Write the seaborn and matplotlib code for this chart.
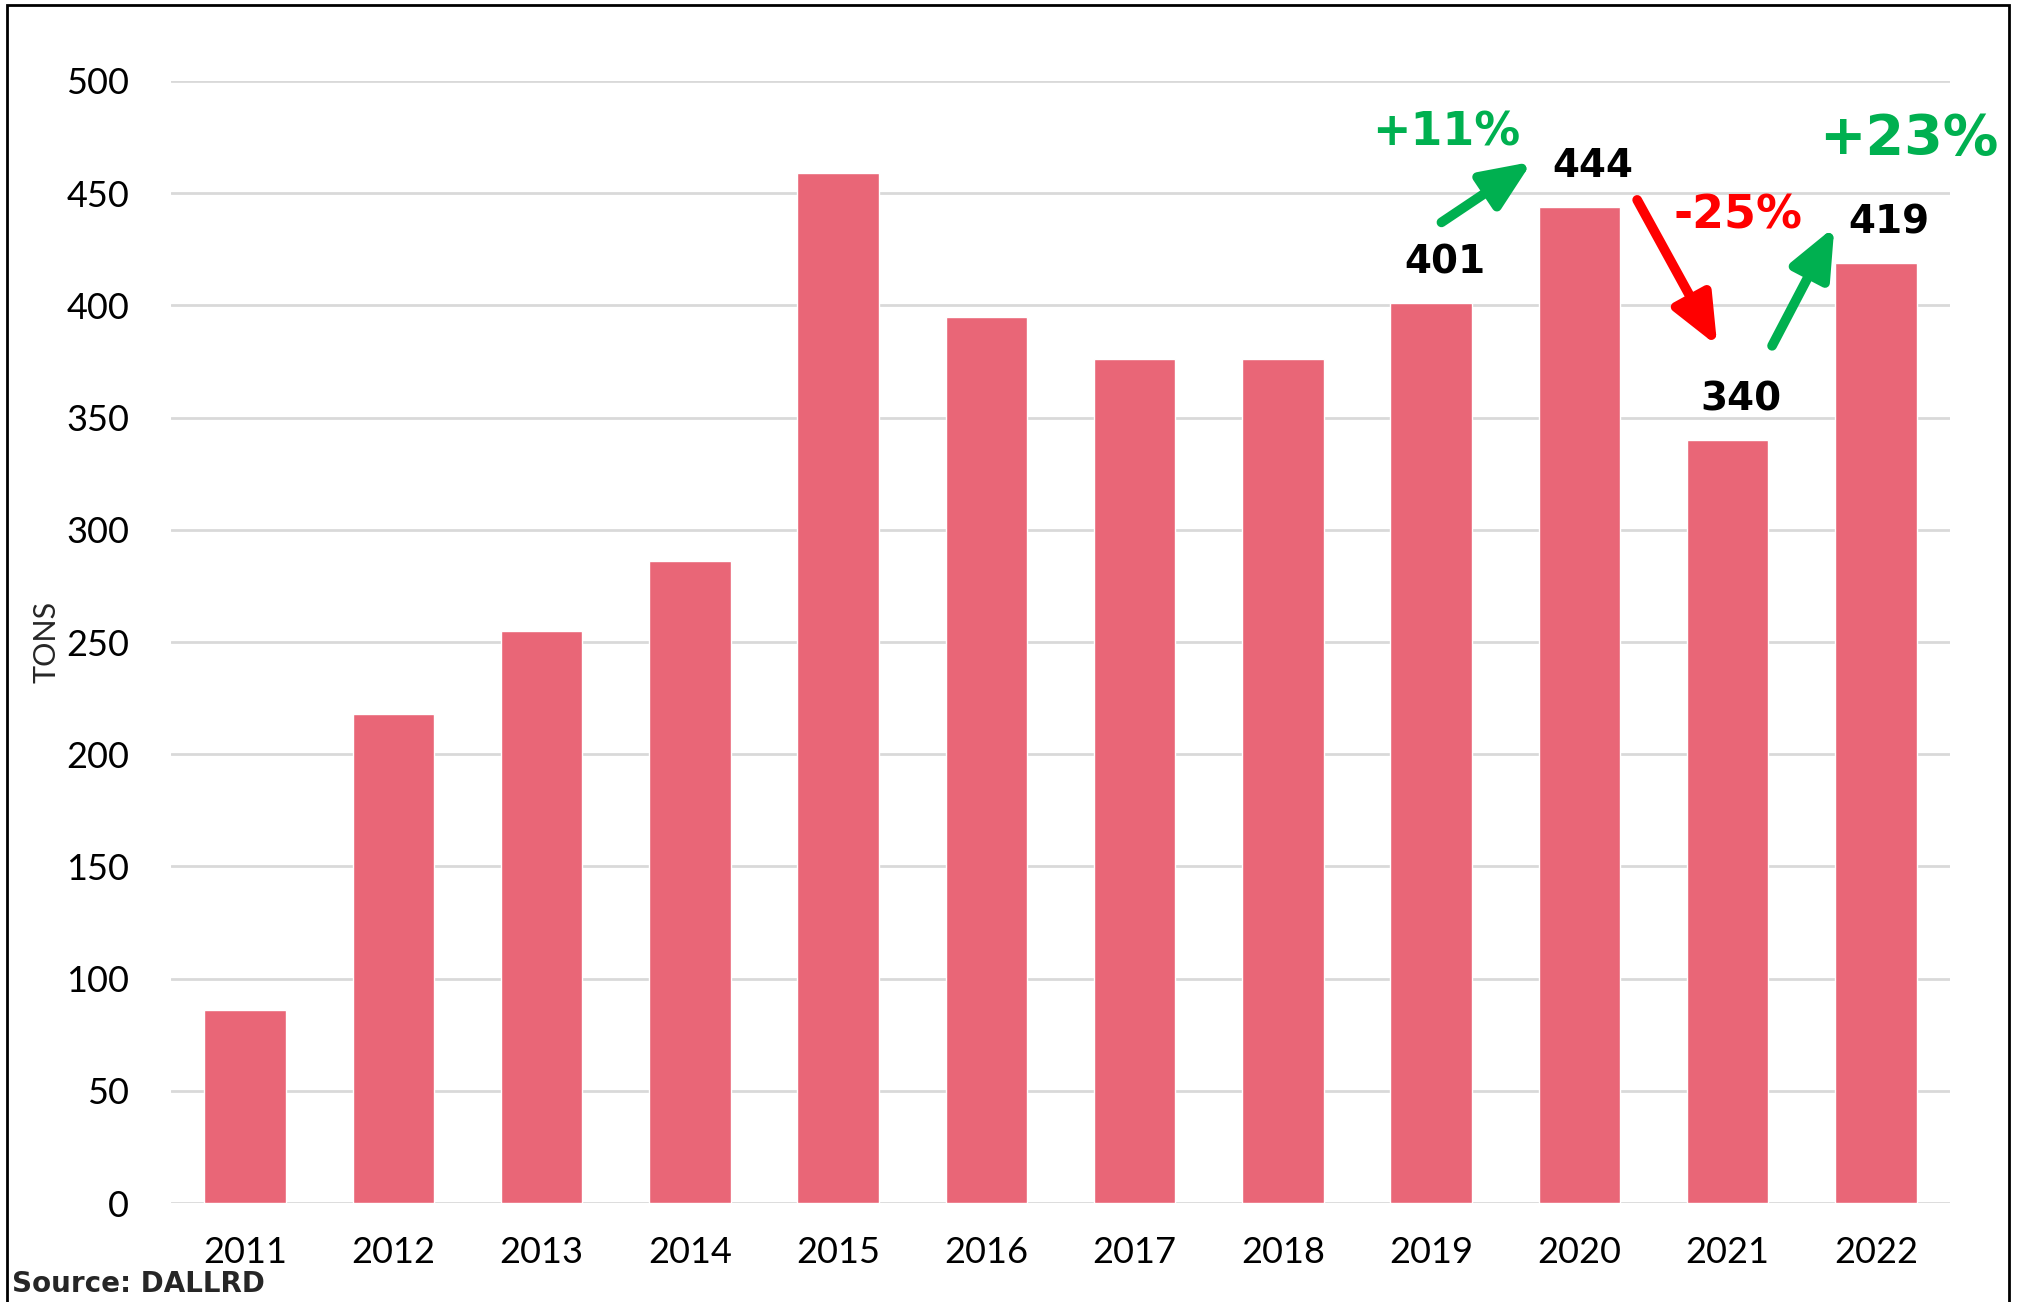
import matplotlib
matplotlib.use("Agg")
import matplotlib.pyplot as plt
import seaborn as sns
import pandas as pd
from matplotlib.patches import Rectangle

# donnees
years = ['2011', '2012', '2013', '2014', '2015', '2016',
         '2017', '2018', '2019', '2020', '2021', '2022']
tons = [86, 218, 255, 286, 459, 395, 376, 376, 401, 444, 340, 419]
labelled_years = ['2019', '2020', '2021', '2022']
yticks = [0, 50, 100, 150, 200, 250, 300, 350, 400, 450, 500]

bar_color = '#E96677'
green = '#00B050'
red = '#FF0000'
bold_font = ['DejaVu Sans']

df = pd.DataFrame({'year': years, 'tons': tons})

sns.set_style('white')
plt.rcParams['font.family'] = ['Lato', 'DejaVu Sans']

fig = plt.figure(figsize=(20.18, 13.02), dpi=100)
ax = fig.add_axes([0.0847, 0.076, 0.8816, 0.8618])

sns.barplot(data=df, x='year', y='tons', color=bar_color, saturation=1,
            width=0.55, ax=ax, zorder=3)

ax.set_ylim(0, 500)
ax.set_xlim(-0.5, 11.5)
ax.set_yticks(yticks)
ax.yaxis.grid(True, color='#D9D9D9', lw=2, zorder=0)
ax.set_axisbelow(True)
for s in ax.spines.values():
    s.set_visible(False)
ax.tick_params(axis='both', length=0, labelsize=26, colors='black')
ax.tick_params(axis='y', pad=30)
ax.tick_params(axis='x', pad=24)
ax.set_xlabel('')
ax.set_ylabel('TONS', fontsize=22)
ax.yaxis.set_label_coords(-0.062, 0.5)

# etiquettes des valeurs
for i, (y, t) in enumerate(zip(years, tons)):
    if y in labelled_years:
        ax.text(i + 0.09, t + 18, str(t), ha='center', va='center',
                fontsize=28, fontweight='bold', family=bold_font,
                color='black', clip_on=False)

# fleches de variation
arrows = [
    ((8.07, 437), (8.68, 464), green),
    ((9.39, 447), (9.93, 382), red),
    ((10.30, 382), (10.72, 435), green),
]
for start, end, col in arrows:
    ax.annotate('', xy=end, xytext=start, annotation_clip=False,
                arrowprops=dict(arrowstyle='-|>,head_length=0.75,head_width=0.32',
                                color=col, lw=7, mutation_scale=40,
                                shrinkA=0, shrinkB=0))

ax.text(8.10, 477, '+11%', ha='center', va='center', fontsize=33,
        fontweight='bold', family=bold_font, color=green, clip_on=False)
ax.text(10.07, 440, '-25%', ha='center', va='center', fontsize=33,
        fontweight='bold', family=bold_font, color=red, clip_on=False)
ax.text(11.22, 474, '+23%', ha='center', va='center', fontsize=40,
        fontweight='bold', family=bold_font, color=green, clip_on=False)

fig.text(0.006, 0.014, 'Source: DALLRD', fontsize=20, fontweight='bold',
         family=bold_font, ha='left', va='center')

# cadre autour de la figure
fig.patches.append(Rectangle((0.0035, -0.01), 0.992, 1.006, transform=fig.transFigure,
                             fill=False, edgecolor='black', lw=2))

fig.savefig('out.png', dpi=100)
